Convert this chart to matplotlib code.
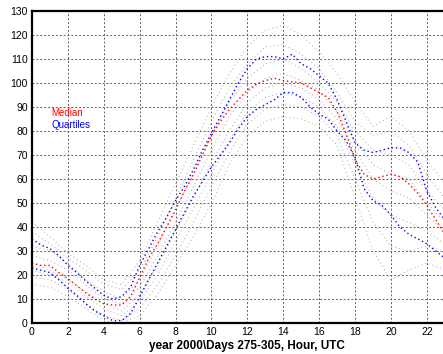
import numpy as np
import matplotlib
matplotlib.use("Agg")
import matplotlib.pyplot as plt

plt.rcParams['font.family'] = ['Liberation Sans', 'DejaVu Sans']

# half-hour steps, hour UTC
hours = np.arange(0, 23.5, 0.5)

median = [25, 24, 24, 21, 18.5, 15.5, 12.5, 10, 8, 7.5, 7.5, 11,
          19, 27, 33, 40, 47, 55, 62, 70, 78, 84, 89, 93,
          97, 99.5, 101, 102, 101, 100.5, 100, 98, 96, 94, 88, 79,
          68, 62, 60, 61, 62, 61, 58, 54, 49, 43, 37]

upper_q = [35, 32.5, 31, 28, 24, 21, 17.5, 14.5, 11.5, 10, 11, 15,
           24, 31, 38, 44, 51, 57, 64, 72, 79, 86, 93, 100,
           106, 110, 111, 111, 110, 112, 108, 106, 103, 100, 93, 84,
           75, 72, 71, 72, 73, 73, 71, 67, 55, 48, 43]

lower_q = [23, 22, 21, 18, 14.5, 11.5, 8, 5, 3, 1, 1, 4,
           11, 18, 25, 32, 39, 46, 53, 59, 65, 70, 75, 81,
           86, 89, 91, 93, 96, 96, 94, 90, 87, 85, 80, 76,
           69, 56, 51, 49, 45, 40, 37, 35, 33, 30, 27]

# individual days (hourly), gray background dots
day_hours = np.arange(0, 24)
days = [
    [42, 36, 29, 24, 18, 16, 26, 42, 58, 74, 90, 104, 115, 122, 124, 120, 113, 104, 92, 82, 86, 80, 68, 58],
    [38, 33, 27, 22, 16, 14, 22, 36, 52, 68, 84, 98, 108, 115, 116, 112, 106, 96, 84, 78, 80, 74, 62, 52],
    [32, 30, 25, 18, 13, 10, 18, 32, 48, 62, 78, 92, 102, 108, 110, 106, 100, 92, 80, 72, 70, 66, 55, 47],
    [28, 26, 22, 16, 10, 8, 15, 28, 42, 57, 72, 86, 96, 102, 104, 101, 97, 88, 76, 66, 62, 60, 50, 42],
    [25, 22, 18, 13, 8, 5, 12, 24, 38, 52, 67, 80, 92, 98, 100, 98, 93, 85, 72, 60, 55, 52, 45, 38],
    [22, 20, 17, 11, 6, 3, 9, 20, 34, 48, 62, 76, 88, 94, 96, 94, 90, 82, 66, 52, 45, 42, 38, 33],
    [19, 18, 14, 8, 3, 1, 6, 16, 28, 42, 57, 71, 83, 89, 91, 90, 86, 78, 60, 42, 32, 30, 32, 30],
    [16, 15, 11, 6, 1, 0, 3, 12, 24, 36, 50, 66, 78, 84, 86, 85, 82, 74, 52, 30, 18, 22, 25, 22],
]

fig = plt.figure(figsize=(4.43, 3.54), dpi=100)
ax = fig.add_axes([32/443, 31/354, 1 - 32/443, 312/354])

for d in days:
    ax.plot(day_hours, d, color='#a8a8a8', linestyle=(0, (1, 3)), linewidth=0.7)

ax.plot(hours, upper_q, color='blue', linestyle=(0, (1, 2)), linewidth=1.0)
ax.plot(hours, lower_q, color='blue', linestyle=(0, (1, 2)), linewidth=1.0)
ax.plot(hours, median, color='red', linestyle=(0, (1, 2)), linewidth=1.0)

ax.text(1.1, 87.5, 'Median', color='red', fontsize=7, va='center')
ax.text(1.1, 82.5, 'Quartiles', color='blue', fontsize=7, va='center')

ax.set_xlim(0, 22.9)
ax.set_ylim(0, 130)
ax.set_xticks(range(0, 23, 2))
ax.set_yticks(range(0, 131, 10))
ax.tick_params(length=0, labelsize=7.5, pad=3)
ax.grid(True, color='#606060', linestyle=(0, (2, 2)), linewidth=0.7)
ax.set_axisbelow(True)
for s in ['left', 'bottom', 'top']:
    ax.spines[s].set_linewidth(1.6)
ax.spines['right'].set_visible(False)

ax.set_xlabel(r'year 2000\Days 275-305, Hour, UTC', fontsize=8.5, fontweight='bold', labelpad=3)
ax.xaxis.set_label_coords(0.523, -0.055)

fig.savefig('out.png', dpi=100)
